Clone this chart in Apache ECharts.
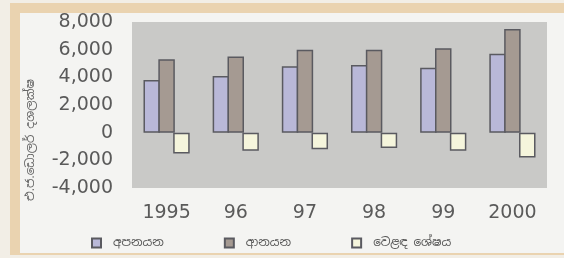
<!DOCTYPE html>
<html>
<head>
<meta charset="utf-8">
<script src="https://cdn.jsdelivr.net/npm/echarts@6/dist/echarts.min.js"></script>
<style>
html, body { margin: 0; padding: 0; background: #f2eee6; }
#chart { width: 564px; height: 258px; }
</style>
</head>
<body>
<div id="chart"></div>
<script>
// years on the x axis
var years = ['1995', '96', '97', '98', '99', '2000'];
// values, US$ millions
var exportsVals = [3800, 4100, 4800, 4900, 4700, 5700];
var importsVals = [5300, 5500, 6000, 6000, 6100, 7500];
var balanceVals = [-1500, -1300, -1200, -1100, -1300, -1800];
var seriesNames = ['අපනයන', 'ආනයන', 'වෙළඳ ශේෂය'];
var yTitle = 'එ.ජ.ඩොලර් දශලක්ෂ';

var font = '"DejaVu Sans", sans-serif';
var sinhala = '"Noto Sans Sinhala", "Noto Sans", sans-serif';

function drawChart(){
	var myChart = echarts.init(document.getElementById('chart'));
	var option = {
		backgroundColor: '#f2eee6',
		animation: false,
		graphic: [
			{ type: 'rect', z: -10, shape: { x: 10, y: 3, width: 554, height: 252 }, style: { fill: '#ead3b0' } },
			{ type: 'rect', z: -9, shape: { x: 20, y: 13, width: 544, height: 240 }, style: { fill: '#f4f4f2' } },
			// y axis title, placed lower than the plot middle as in the original
			{ type: 'text', x: 31, y: 140, rotation: Math.PI / 2,
				style: { text: yTitle, font: '12px ' + sinhala, fill: '#666', align: 'center', verticalAlign: 'middle' } }
		],
		grid: { left: 132, right: 17, top: 22, bottom: 70, show: true, backgroundColor: '#c9c9c7', borderWidth: 0 },
		legend: {
			left: 86, top: 232, itemWidth: 9, itemHeight: 9, itemGap: 60,
			textStyle: { fontFamily: sinhala, fontSize: 12, color: '#555', padding: [0, 0, 0, 7] },
			data: seriesNames.map(function(n){ return { name: n, icon: 'rect' }; })
		},
		xAxis: {
			type: 'category', data: years,
			axisLine: { show: false }, axisTick: { show: false },
			axisLabel: { fontFamily: font, fontSize: 19, color: '#5a5a5a', margin: 16 }
		},
		yAxis: {
			type: 'value', min: -4000, max: 8000, interval: 2000,
			splitLine: { show: false },
			axisLabel: { fontFamily: font, fontSize: 19, color: '#5a5a5a', margin: 19,
				formatter: function(v){ return v.toLocaleString('en-US'); } }
		},
		series: [
			{ name: seriesNames[0], type: 'bar', data: exportsVals, barWidth: 16.5, barGap: '-10%',
				itemStyle: { color: '#b9b8d8', borderColor: '#5a5a60', borderWidth: 1.5 } },
			{ name: seriesNames[1], type: 'bar', data: importsVals, barWidth: 16.5, barGap: '-10%',
				itemStyle: { color: '#a59a92', borderColor: '#5a5a60', borderWidth: 1.5 } },
			{ name: seriesNames[2], type: 'bar', data: balanceVals, barWidth: 16.5, barGap: '-10%',
				itemStyle: { color: '#f5f5dc', borderColor: '#5a5a60', borderWidth: 1.5 } }
		]
	};
	myChart.setOption(option);
}

drawChart();
</script>
</body>
</html>
